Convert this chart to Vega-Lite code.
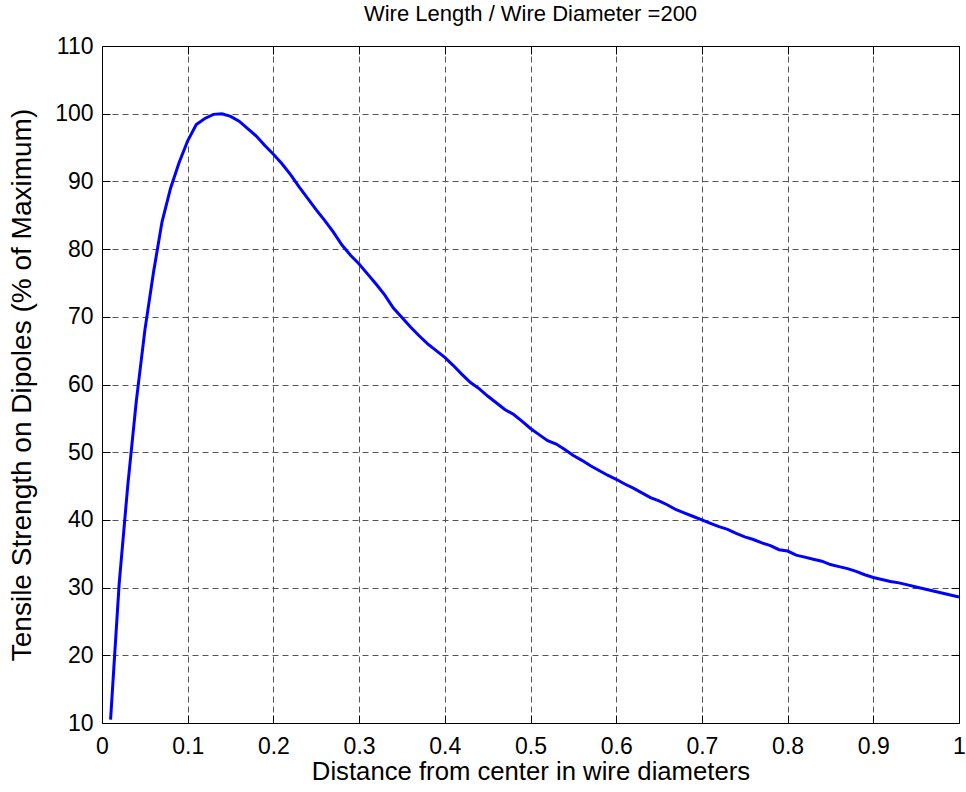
{
  "$schema": "https://vega.github.io/schema/vega-lite/v6.json",
  "autosize": {"type": "none"},
  "padding": {"left": 102, "top": 46, "right": 7, "bottom": 69},
  "width": 857,
  "height": 677,
  "background": "white",
  "title": {"text": "Wire Length / Wire Diameter =200", "font": "Liberation Sans", "fontSize": 22, "fontWeight": "normal", "color": "black", "offset": 9, "anchor": "middle"},
  "config": {"view": {"stroke": null}},
  "data": {"values": [
    {"d": 0.01, "t": 10.5}, {"d": 0.02, "t": 30.5}, {"d": 0.03, "t": 45}, {"d": 0.04, "t": 57.5}, {"d": 0.05, "t": 68},
    {"d": 0.06, "t": 76.5}, {"d": 0.07, "t": 84}, {"d": 0.08, "t": 89}, {"d": 0.09, "t": 92.8}, {"d": 0.10, "t": 96},
    {"d": 0.11, "t": 98.4}, {"d": 0.12, "t": 99.3}, {"d": 0.13, "t": 99.9}, {"d": 0.14, "t": 100}, {"d": 0.15, "t": 99.6},
    {"d": 0.16, "t": 98.9}, {"d": 0.17, "t": 97.8}, {"d": 0.18, "t": 96.7}, {"d": 0.19, "t": 95.3}, {"d": 0.20, "t": 94.0},
    {"d": 0.21, "t": 92.6}, {"d": 0.22, "t": 91.0}, {"d": 0.23, "t": 89.2}, {"d": 0.24, "t": 87.5}, {"d": 0.25, "t": 85.8},
    {"d": 0.26, "t": 84.2}, {"d": 0.27, "t": 82.5}, {"d": 0.28, "t": 80.6}, {"d": 0.29, "t": 79.1}, {"d": 0.30, "t": 77.8},
    {"d": 0.31, "t": 76.3}, {"d": 0.32, "t": 74.8}, {"d": 0.33, "t": 73.2}, {"d": 0.34, "t": 71.3}, {"d": 0.35, "t": 69.9},
    {"d": 0.36, "t": 68.5}, {"d": 0.37, "t": 67.2}, {"d": 0.38, "t": 66.0}, {"d": 0.39, "t": 65.0}, {"d": 0.40, "t": 64.0},
    {"d": 0.41, "t": 62.8}, {"d": 0.42, "t": 61.5}, {"d": 0.43, "t": 60.3}, {"d": 0.44, "t": 59.4}, {"d": 0.45, "t": 58.3},
    {"d": 0.46, "t": 57.3}, {"d": 0.47, "t": 56.3}, {"d": 0.48, "t": 55.6}, {"d": 0.49, "t": 54.6}, {"d": 0.50, "t": 53.5},
    {"d": 0.51, "t": 52.6}, {"d": 0.52, "t": 51.7}, {"d": 0.53, "t": 51.2}, {"d": 0.54, "t": 50.4}, {"d": 0.55, "t": 49.5},
    {"d": 0.56, "t": 48.8}, {"d": 0.57, "t": 48.0}, {"d": 0.58, "t": 47.3}, {"d": 0.59, "t": 46.6}, {"d": 0.60, "t": 46.0},
    {"d": 0.61, "t": 45.3}, {"d": 0.62, "t": 44.7}, {"d": 0.63, "t": 44.0}, {"d": 0.64, "t": 43.3}, {"d": 0.65, "t": 42.8},
    {"d": 0.66, "t": 42.2}, {"d": 0.67, "t": 41.5}, {"d": 0.68, "t": 41.0}, {"d": 0.69, "t": 40.5}, {"d": 0.70, "t": 40.0},
    {"d": 0.71, "t": 39.5}, {"d": 0.72, "t": 39.0}, {"d": 0.73, "t": 38.6}, {"d": 0.74, "t": 38.0}, {"d": 0.75, "t": 37.5},
    {"d": 0.76, "t": 37.1}, {"d": 0.77, "t": 36.6}, {"d": 0.78, "t": 36.2}, {"d": 0.79, "t": 35.6}, {"d": 0.80, "t": 35.4},
    {"d": 0.81, "t": 34.8}, {"d": 0.82, "t": 34.5}, {"d": 0.83, "t": 34.2}, {"d": 0.84, "t": 33.9}, {"d": 0.85, "t": 33.4},
    {"d": 0.86, "t": 33.1}, {"d": 0.87, "t": 32.8}, {"d": 0.88, "t": 32.4}, {"d": 0.89, "t": 31.9}, {"d": 0.90, "t": 31.5},
    {"d": 0.91, "t": 31.2}, {"d": 0.92, "t": 30.9}, {"d": 0.93, "t": 30.7}, {"d": 0.94, "t": 30.4}, {"d": 0.95, "t": 30.1},
    {"d": 0.96, "t": 29.8}, {"d": 0.97, "t": 29.5}, {"d": 0.98, "t": 29.2}, {"d": 0.99, "t": 28.9}, {"d": 1.00, "t": 28.6}
  ]},
  "layer": [
    {
      "mark": {"type": "line", "opacity": 0},
      "encoding": {
        "x": {"field": "d", "type": "quantitative", "scale": {"domain": [0, 1], "nice": false, "zero": false},
          "axis": {"orient": "top", "labels": false, "title": null, "grid": false, "values": [0,0.1,0.2,0.3,0.4,0.5,0.6,0.7,0.8,0.9,1],
            "tickSize": -8, "tickColor": "black", "domainColor": "black", "domainWidth": 1, "tickWidth": 1}},
        "y": {"field": "t", "type": "quantitative", "scale": {"domain": [10, 110], "nice": false, "zero": false},
          "axis": {"orient": "right", "labels": false, "title": null, "grid": false, "values": [10,20,30,40,50,60,70,80,90,100,110],
            "tickSize": -8, "tickColor": "black", "domainColor": "black", "domainWidth": 1, "tickWidth": 1}}
      }
    },
    {
      "mark": {"type": "line", "color": "#0000FF", "strokeWidth": 3},
      "encoding": {
        "x": {"field": "d", "type": "quantitative", "scale": {"domain": [0, 1], "nice": false, "zero": false},
          "axis": {"orient": "bottom", "title": "Distance from center in wire diameters", "values": [0,0.1,0.2,0.3,0.4,0.5,0.6,0.7,0.8,0.9,1],
            "labelExpr": "datum.value == 1 ? '1' : (datum.value == 0 ? '0' : format(datum.value, '.1f'))",
            "tickSize": -8, "tickColor": "black", "domainColor": "black", "domainWidth": 1, "tickWidth": 1,
            "grid": true, "gridColor": "#555555", "gridDash": [6, 4], "gridWidth": 1, "gridOpacity": 1,
            "labelFont": "Liberation Sans", "labelFontSize": 23, "labelColor": "black", "labelPadding": 20, "labelFlush": false,
            "titleFont": "Liberation Sans", "titleFontSize": 25.7, "titleFontWeight": "normal", "titleColor": "black", "titlePadding": 1}},
        "y": {"field": "t", "type": "quantitative", "scale": {"domain": [10, 110], "nice": false, "zero": false},
          "axis": {"orient": "left", "title": "Tensile Strength on Dipoles (% of Maximum)", "values": [10,20,30,40,50,60,70,80,90,100,110],
            "tickSize": -8, "tickColor": "black", "domainColor": "black", "domainWidth": 1, "tickWidth": 1,
            "grid": true, "gridColor": "#555555", "gridDash": [6, 4], "gridWidth": 1, "gridOpacity": 1,
            "labelFont": "Liberation Sans", "labelFontSize": 23, "labelColor": "black", "labelPadding": 17, "labelFlush": false,
            "titleFont": "Liberation Sans", "titleFontSize": 28, "titleFontWeight": "normal", "titleColor": "black", "titlePadding": 18}}
      }
    }
  ]
}
